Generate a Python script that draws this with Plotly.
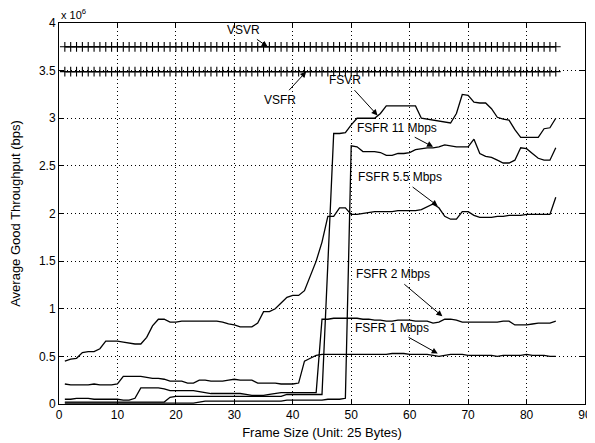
import plotly.graph_objects as go

frame_size = list(range(1, 86))

vsvr = [3.75] * 85
vsfr = [3.49] * 85

fsvr = ([0.02] * 18 + [0.07, 0.08] + [0.08] * 18 + [0.10] * 7 +
        [1.47, 2.84, 2.84, 2.85, 2.93, 3.00, 3.00, 3.00, 3.00, 3.05, 3.13,
         3.13, 3.13, 3.13, 3.13, 3.13, 3.00, 2.99, 2.98, 2.97, 2.96, 2.95, 3.05,
         3.25, 3.24, 3.17, 3.16, 3.16, 3.10, 3.01, 2.99, 2.98, 2.88, 2.80, 2.80,
         2.80, 2.80, 2.89, 2.90, 3.00])

fsfr_11 = ([0.01] * 23 + [0.02] + [0.03] * 14 + [0.04] * 7 + [0.05, 0.05, 0.05, 0.06] +
           [2.71, 2.70, 2.65, 2.65, 2.65, 2.64, 2.61, 2.61, 2.63, 2.63, 2.64,
            2.67, 2.68, 2.69, 2.69, 2.70, 2.72, 2.71, 2.70, 2.70, 2.70, 2.78,
            2.63, 2.60, 2.59, 2.56, 2.53, 2.53, 2.56, 2.69, 2.68, 2.63, 2.58,
            2.56, 2.56, 2.69])

fsfr_55 = [0.45, 0.47, 0.48, 0.54, 0.55, 0.55, 0.58, 0.66, 0.66, 0.66,
           0.65, 0.64, 0.63, 0.63, 0.70, 0.82, 0.89, 0.89, 0.86, 0.86,
           0.87, 0.87, 0.87, 0.87, 0.87, 0.87, 0.87, 0.86, 0.84, 0.83,
           0.81, 0.81, 0.81, 0.85, 0.97, 0.97, 1.00, 1.06, 1.12, 1.14,
           1.14, 1.19, 1.35, 1.50, 1.70, 1.97, 1.97, 2.06, 2.06, 1.99,
           1.99, 2.00, 2.01, 2.02, 2.02, 2.02, 2.02, 2.03, 2.03, 2.03,
           2.03, 2.04, 2.07, 2.10, 2.06, 1.97, 1.94, 1.94, 2.02, 2.02,
           1.98, 1.96, 1.96, 1.96, 1.97, 1.97, 1.98, 1.98, 1.98, 1.99,
           1.99, 1.99, 1.99, 1.99, 2.17]

fsfr_2 = [0.05, 0.05, 0.06, 0.06, 0.06, 0.05, 0.05, 0.05, 0.05, 0.05,
          0.04, 0.04, 0.06, 0.17, 0.17, 0.17, 0.17, 0.16, 0.14, 0.14,
          0.14, 0.14, 0.14, 0.13, 0.12, 0.11, 0.11, 0.11, 0.11, 0.11,
          0.11, 0.10, 0.09, 0.09, 0.09, 0.10, 0.11, 0.12, 0.12, 0.12,
          0.12, 0.12, 0.12, 0.12, 0.89, 0.89, 0.90, 0.90, 0.90, 0.90,
          0.90, 0.89, 0.89, 0.88, 0.88, 0.87, 0.87, 0.88, 0.88, 0.88,
          0.87, 0.87, 0.87, 0.85, 0.86, 0.89, 0.89, 0.88, 0.86, 0.86,
          0.86, 0.86, 0.86, 0.86, 0.86, 0.87, 0.87, 0.83, 0.83, 0.83,
          0.84, 0.85, 0.85, 0.85, 0.87]

fsfr_1 = [0.21, 0.20, 0.20, 0.20, 0.20, 0.21, 0.20, 0.20, 0.20, 0.21,
          0.29, 0.29, 0.29, 0.29, 0.28, 0.27, 0.27, 0.26, 0.24, 0.24,
          0.24, 0.22, 0.22, 0.25, 0.25, 0.24, 0.24, 0.24, 0.25, 0.26,
          0.25, 0.25, 0.25, 0.22, 0.22, 0.22, 0.22, 0.21, 0.21, 0.21,
          0.22, 0.45, 0.48, 0.51, 0.52, 0.52, 0.52, 0.52, 0.52, 0.52,
          0.52, 0.52, 0.52, 0.52, 0.52, 0.52, 0.53, 0.53, 0.53, 0.52,
          0.52, 0.52, 0.52, 0.51, 0.50, 0.51, 0.52, 0.52, 0.52, 0.51,
          0.51, 0.51, 0.51, 0.51, 0.50, 0.51, 0.51, 0.51, 0.51, 0.52,
          0.51, 0.51, 0.51, 0.50, 0.50]

x_ticks = [0, 10, 20, 30, 40, 50, 60, 70, 80, 90]
y_ticks = [0, 0.5, 1, 1.5, 2, 2.5, 3, 3.5, 4]
y_tick_labels = ["0", "0.5", "1", "1.5", "2", "2.5", "3", "3.5", "4"]

# label text, text centre (x, y), arrow tip (x, y)
labels = [
    ("VSVR", 31.5, 3.93, 35.7, 3.75),
    ("VSFR", 37.8, 3.19, 42.3, 3.49),
    ("FSVR", 49.0, 3.40, 54.5, 3.03),
    ("FSFR 11 Mbps", 57.8, 2.90, 64.0, 2.70),
    ("FSFR 5.5 Mbps", 58.3, 2.38, 64.8, 2.08),
    ("FSFR 2 Mbps", 57.1, 1.36, 65.6, 0.92),
    ("FSFR 1 Mbps", 56.9, 0.80, 64.8, 0.53),
]

FONT = "Liberation Sans, Arial, sans-serif"

fig = go.Figure()

line_style = dict(color="black", width=1.3)
for name, ys in [("FSFR 1 Mbps", fsfr_1), ("FSFR 2 Mbps", fsfr_2),
                 ("FSFR 5.5 Mbps", fsfr_55), ("FSFR 11 Mbps", fsfr_11),
                 ("FSVR", fsvr)]:
    fig.add_trace(go.Scatter(x=frame_size, y=ys, mode="lines", name=name,
                             line=line_style))

for name, ys in [("VSVR", vsvr), ("VSFR", vsfr)]:
    fig.add_trace(go.Scatter(x=frame_size, y=ys, mode="lines+markers", name=name,
                             line=line_style,
                             marker=dict(symbol="cross-thin", size=7,
                                         line=dict(color="black", width=1.1))))

for text, tx, ty, px, py in labels:
    fig.add_annotation(x=px, y=py, ax=tx, ay=ty, axref="x", ayref="y", text=text,
                       showarrow=True, arrowhead=2, arrowsize=1.2, arrowwidth=1,
                       arrowcolor="black", startstandoff=2,
                       font=dict(family=FONT, size=12, color="black"))

fig.add_annotation(x=0, y=1, xref="paper", yref="paper", xanchor="left", yanchor="bottom",
                   text="x 10<sup>6</sup>", showarrow=False, yshift=0,
                   font=dict(family=FONT, size=11, color="black"))

axis_common = dict(showline=True, linecolor="black", linewidth=1, mirror="ticks",
                   ticks="inside", ticklen=5, tickcolor="black",
                   showgrid=True, gridcolor="black", griddash="1px,3px", gridwidth=1,
                   zeroline=False, automargin=False,
                   tickfont=dict(family=FONT, size=12, color="black"))

# the page places the figure 8px in from the top-left corner
fig.update_layout(
    width=587, height=435,
    margin=dict(l=51, r=10, t=15, b=39),
    plot_bgcolor="white", paper_bgcolor="white",
    showlegend=False,
    xaxis=dict(range=[0, 90], tickvals=x_ticks,
               title=dict(text="Frame Size (Unit: 25 Bytes)", standoff=6,
                          font=dict(family=FONT, size=13, color="black")),
               **axis_common),
    yaxis=dict(range=[0, 4], tickvals=y_ticks, ticktext=y_tick_labels,
               title=dict(text="Average Good Throughput (bps)", standoff=22,
                          font=dict(family=FONT, size=13, color="black")),
               **axis_common),
)

fig.write_html("out.html")
